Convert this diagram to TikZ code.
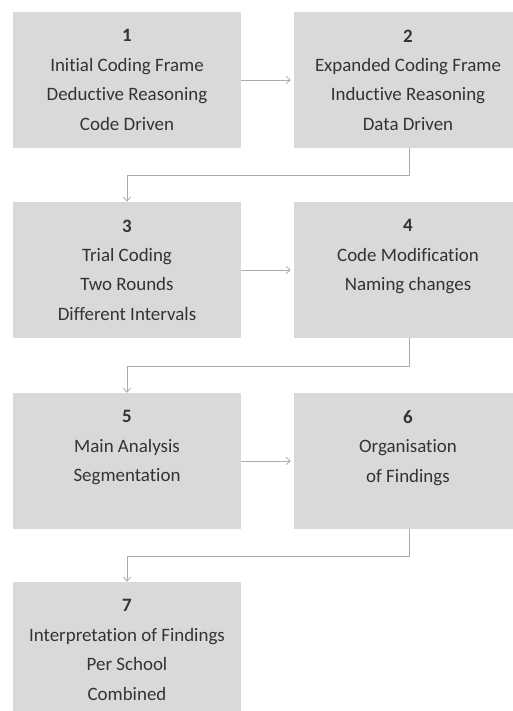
\documentclass[tikz,border=0pt]{standalone}
\usepackage{fontspec}
\setmainfont{Carlito}[Ligatures={NoCommon,NoContextual}]
\usetikzlibrary{arrows.meta}
\definecolor{boxfill}{HTML}{D9D9D9}
\definecolor{boxtext}{HTML}{333333}
\definecolor{linegray}{HTML}{ABABAB}
\begin{document}
\begin{tikzpicture}[x=1bp,y=-1bp,
  stage/.style={rectangle, fill=boxfill, text=boxtext, minimum width=228bp,
    minimum height=136bp, inner sep=0pt, align=center,
    font=\fontsize{19}{29.5}\selectfont},
  flow/.style={draw=linegray, line width=0.8bp,
    -{Straight Barb[length=4bp,width=7bp]}}]
\useasboundingbox (0,0) rectangle (513,711);
\begin{scope}
\clip (0,0) rectangle (513,711);
\node[stage] (s1) at (127,80)  {\textbf{1}\\Initial Coding Frame\\Deductive Reasoning\\Code Driven};
\node[stage] (s2) at (408,80)  {\textbf{2}\\Expanded Coding Frame\\Inductive Reasoning\\Data Driven};
\node[stage] (s3) at (127,270) {\textbf{3}\\Trial Coding\\Two Rounds\\Different Intervals};
\node[stage] (s4) at (408,270) {\textbf{4}\\Code Modification\\Naming changes\\\phantom{C}};
\node[stage] (s5) at (127,461) {\textbf{5}\\Main Analysis\\Segmentation\\\phantom{C}};
\node[stage] (s6) at (408,461) {\textbf{6}\\Organisation\\of Findings\\\phantom{C}};
\node[stage] (s7) at (127,650) {\textbf{7}\\Interpretation of Findings\\Per School\\Combined};
\end{scope}
\coordinate (b2) at (409,175);
\coordinate (b4) at (409,366);
\coordinate (b6) at (409,556);
\draw[flow] (s1.east) -- ([xshift=-3bp]s2.west);
\draw[flow] (s3.east) -- ([xshift=-3bp]s4.west);
\draw[flow] (s5.east) -- ([xshift=-3bp]s6.west);
\draw[flow] (s2.south -| b2) -- (b2) -- (b2 -| s3.north) -- (s3.north);
\draw[flow] (s4.south -| b4) -- (b4) -- (b4 -| s5.north) -- (s5.north);
\draw[flow] (s6.south -| b6) -- (b6) -- (b6 -| s7.north) -- (s7.north);
\end{tikzpicture}
\end{document}
